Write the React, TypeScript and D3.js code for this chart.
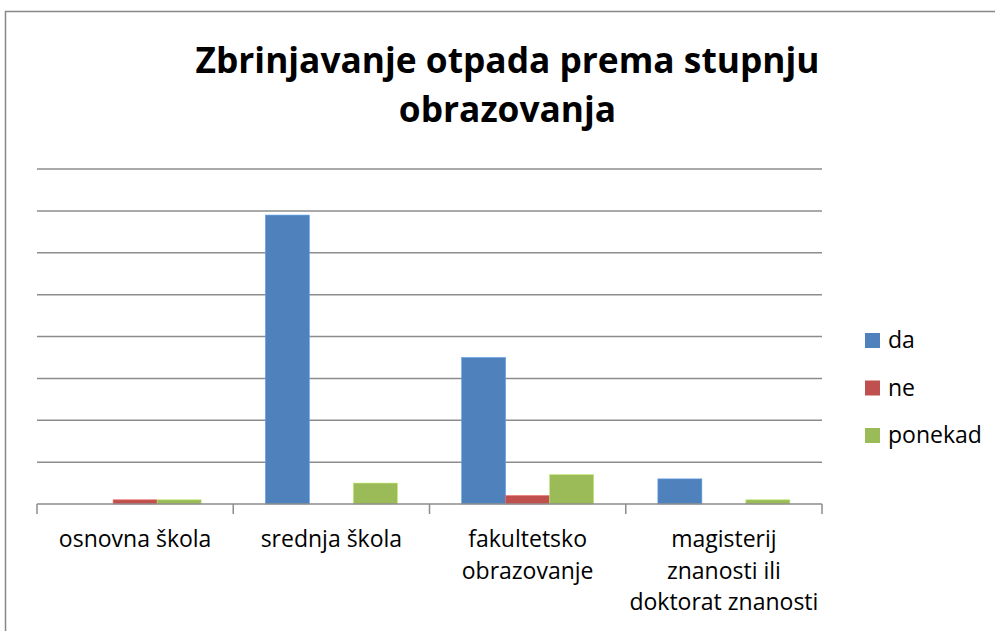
import React, { useRef, useEffect } from "react";
import * as d3 from "d3";

const categories = ["osnovna škola", "srednja škola", "fakultetsko obrazovanje", "magisterij znanosti ili doktorat znanosti"];
const categoryLines = [["osnovna škola"], ["srednja škola"], ["fakultetsko", "obrazovanje"], ["magisterij", "znanosti ili", "doktorat znanosti"]];
const seriesNames = ["da", "ne", "ponekad"];
const daValues = [0, 69, 35, 6];
const neValues = [1, 0, 2, 0];
const ponekadValues = [1, 5, 7, 1];
const gridTicks = [10, 20, 30, 40, 50, 60, 70, 80];
const titleLines = ["Zbrinjavanje otpada prema stupnju", "obrazovanja"];

const colors = ["#4f81bd", "#c0504d", "#9bbb59"];
const FONT = "'Open Sans', 'Noto Sans', sans-serif";

export default function App() {
  const ref = useRef<SVGSVGElement>(null);

  useEffect(() => {
    if (!ref.current) return;
    const svg = d3.select(ref.current);
    svg.selectAll("*").remove();

    const width = 995;
    const height = 631;
    svg.append("rect").attr("width", width).attr("height", height).attr("fill", "#fff");
    // chart frame (runs off the right and bottom of the picture)
    svg.append("rect")
      .attr("x", 5.5).attr("y", 11.5).attr("width", 1100).attr("height", 800)
      .attr("fill", "none").attr("stroke", "#878787").attr("stroke-width", 1.5);

    // title
    svg.append("text")
      .attr("x", 507.5).attr("text-anchor", "middle")
      .style("font-family", FONT).style("font-weight", 700).style("font-size", "35.3px").style("fill", "#000")
      .selectAll("tspan").data(titleLines).enter().append("tspan")
      .attr("x", 507.5).attr("y", (_, i) => 73 + i * 49)
      .text(d => d);

    const x0 = d3.scaleBand().domain(categories).range([37, 822]).paddingInner(0).paddingOuter(0);
    const x1 = d3.scaleBand().domain(seriesNames).range([0, x0.bandwidth()]).paddingInner(0).paddingOuter(0.73);
    const y = d3.scaleLinear().domain([0, 80]).range([504, 169]);

    // gridlines
    svg.append("g").selectAll("line").data(gridTicks).enter().append("line")
      .attr("x1", 37).attr("x2", 822)
      .attr("y1", d => y(d)).attr("y2", d => y(d))
      .attr("stroke", "#8c8c8c").attr("stroke-width", 1.5);

    // bars
    const seriesValues = [daValues, neValues, ponekadValues];
    const g = svg.append("g");
    seriesNames.forEach((s, si) => {
      g.selectAll(`rect.s${si}`).data(seriesValues[si]).enter().append("rect")
        .attr("class", `s${si}`)
        .attr("x", (_, i) => x0(categories[i])! + x1(s)!)
        .attr("y", d => y(d))
        .attr("width", x1.bandwidth())
        .attr("height", d => y(0) - y(d))
        .attr("fill", colors[si])
        .attr("stroke", d3.color(colors[si])!.brighter(0.6).toString())
        .attr("stroke-width", 0.6)
        .attr("display", d => d > 0 ? null : "none");
    });

    // x axis
    const axis = svg.append("g");
    axis.append("line").attr("x1", 37).attr("x2", 822).attr("y1", y(0)).attr("y2", y(0))
      .attr("stroke", "#8c8c8c").attr("stroke-width", 1.5);
    const tickX = categories.map(c => x0(c)!).concat([822]);
    axis.selectAll("line.tick").data(tickX).enter().append("line")
      .attr("class", "tick")
      .attr("x1", d => d).attr("x2", d => d).attr("y1", y(0)).attr("y2", y(0) + 10)
      .attr("stroke", "#8c8c8c").attr("stroke-width", 1.5);

    // category labels
    categories.forEach((c, i) => {
      const cx = x0(c)! + x0.bandwidth() / 2;
      svg.append("text").attr("text-anchor", "middle")
        .style("font-family", FONT).style("font-size", "23px").style("fill", "#000")
        .selectAll("tspan").data(categoryLines[i]).enter().append("tspan")
        .attr("x", cx).attr("y", (_, j) => 547 + j * 31.7)
        .text(d => d);
    });

    // legend
    const leg = svg.append("g").attr("transform", "translate(865,333)");
    seriesNames.forEach((s, i) => {
      leg.append("rect").attr("x", 0).attr("y", i * 47.5).attr("width", 15).attr("height", 15).attr("fill", colors[i]);
      leg.append("text").attr("x", 23).attr("y", i * 47.5 + 15)
        .style("font-family", FONT).style("font-size", "23px").style("fill", "#000")
        .text(s);
    });
  }, []);

  return (
    <svg ref={ref} width={995} height={631} style={{ position: "absolute", left: 0, top: 0 }} />
  );
}
